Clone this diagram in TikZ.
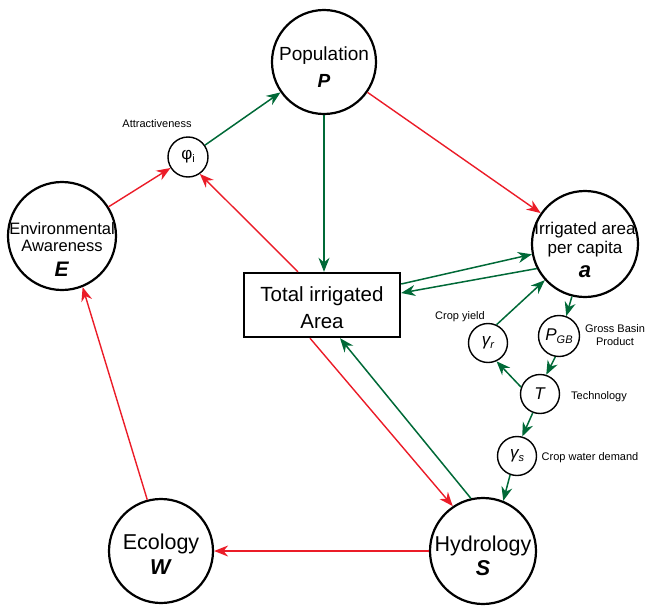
\documentclass[tikz,border=0pt]{standalone}
\usepackage{fontspec}
\setmainfont{Liberation Sans}
\usetikzlibrary{arrows.meta}
\definecolor{linkgreen}{RGB}{0,105,55}
\definecolor{linkred}{RGB}{235,28,40}
\newcommand{\lowidx}[1]{\raisebox{-3pt}{\fontsize{11}{11}\selectfont #1}}
\newcommand{\toppad}[1]{\rule{0pt}{#1}}

\begin{document}
\begin{tikzpicture}[x=1pt,y=-1pt,
    bigvar/.style={draw,circle,line width=2.2pt,inner sep=-40pt,align=center},
    smallvar/.style={draw,circle,line width=1.4pt,minimum size=39pt,inner sep=0pt,
        font=\fontsize{17}{17}\selectfont},
    note/.style={font=\fontsize{11}{13}\selectfont,align=center},
    poslink/.style={linkgreen,line width=1.5pt,-{Stealth[length=14pt,width=11pt]}},
    neglink/.style={linkred,line width=1.4pt,-{Stealth[length=14pt,width=11pt]}}]
    \useasboundingbox (0,0) rectangle (646,608);

    % main state variables
    \node [bigvar,minimum size=104pt,font=\fontsize{19}{27}\selectfont] (P) at (324,62)
        {\toppad{24pt}Population\\\textbf{\textit{P}}};
    \node [bigvar,minimum size=108pt,font=\fontsize{16.5}{17}\selectfont] (E) at (62,236)
        {\toppad{38pt}Environmental\\Awareness\\[8pt]{\fontsize{21}{21}\selectfont\textbf{\textit{E}}}};
    \node [bigvar,minimum size=106pt,font=\fontsize{17}{19}\selectfont] (a) at (585,244)
        {\toppad{25pt}Irrigated area\\per capita\\[5pt]{\fontsize{22}{22}\selectfont\textbf{\textit{a}}}};
    \node [bigvar,minimum size=106pt,font=\fontsize{21.5}{24}\selectfont] (S) at (483,551)
        {\toppad{26pt}Hydrology\\\textbf{\textit{S}}};
    \node [bigvar,minimum size=104pt,font=\fontsize{21.5}{25}\selectfont] (W) at (161,551)
        {\toppad{22pt}Ecology\\\textbf{\textit{W}}};
    \node [draw,line width=2.4pt,minimum width=156pt,minimum height=64pt,inner sep=1pt,
        align=center,font=\fontsize{20.5}{27}\selectfont] (tot) at (322,305)
        {\toppad{21pt}Total irrigated\\Area};

    % auxiliary variables
    \node [smallvar,minimum size=40pt] (phi) at (188,157) {φ\lowidx{i}};
    \node [smallvar] (gr) at (488,343) {\textit{γ\lowidx{r}}};
    \node [smallvar,minimum size=41pt] (pgb) at (559,336) {\textit{P\lowidx{GB}}};
    \node [smallvar] (T) at (540,394) {\textit{T}};
    \node [smallvar] (gs) at (517,456) {\textit{γ\lowidx{s}}};

    % labels
    \node [note] (attr) at (157,124) {Attractiveness};
    \node [note] (yield) at (460,317) {Crop yield};
    \node [note] (gbp) at (615,335) {Gross Basin\\Product};
    \node [note] (tech) at (599,397) {Technology};
    \node [note] (cwd) at (590,458) {Crop water demand};

    % green links
    \draw [poslink] (phi) -- (P);
    \draw [poslink] (P) -- (P |- tot.north);
    \draw [poslink] ([yshift=21pt]tot.east) -- (a.191);
    \draw [poslink] (a.207) -- ([yshift=12pt]tot.east);
    \draw [poslink] (gr.65) -- (a.222);
    \draw [poslink] (a.256) -- (pgb.70);
    \draw [poslink] (pgb.260) -- (T.72);
    \draw [poslink] (T.160) -- (gr.295);
    \draw [poslink] (T.249) -- (gs.75);
    \draw [poslink] (gs.250) -- (S.68);
    \draw [poslink] (S.103) -- ([xshift=18pt]tot.south);

    % red links
    \draw [neglink] (E) -- (phi);
    \draw [neglink] ([xshift=-24pt]tot.north) -- (phi.305);
    \draw [neglink] (P) -- (a);
    \draw [neglink] ([xshift=-12pt]tot.south) -- (S.124);
    \draw [neglink] (S.west) -- (W.east);
    \draw [neglink] (W.105) -- (E.292);
\end{tikzpicture}
\end{document}
